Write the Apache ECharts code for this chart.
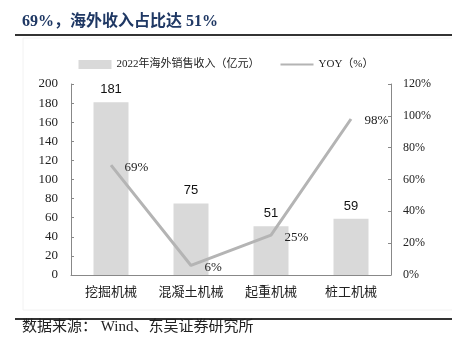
<!DOCTYPE html>
<html>
<head>
<meta charset="utf-8">
<script src="https://cdn.jsdelivr.net/npm/echarts@6/dist/echarts.min.js"></script>
<style>
html,body{margin:0;padding:0;background:#fff;}
#c{width:452px;height:349px;}
</style>
</head>
<body>
<div id="c"></div>
<script>
var categories = ['挖掘机械', '混凝土机械', '起重机械', '桩工机械'];
var salesValues = [181, 75, 51, 59];
var yoyValues = [69, 6, 25, 98];
var leftTicks = [0, 20, 40, 60, 80, 100, 120, 140, 160, 180, 200];
var rightTicks = ['0%', '20%', '40%', '60%', '80%', '100%', '120%'];
var titleText = '69%，海外收入占比达 51%';
var sourceText = '数据来源： Wind、东吴证券研究所';
var barName = '2022年海外销售收入（亿元）';
var lineName = 'YOY（%）';

var serif = '"Liberation Serif", "DejaVu Serif", "Noto Sans CJK SC", serif';
var chart = echarts.init(document.getElementById('c'));
chart.setOption({
  animation: false,
  backgroundColor: '#ffffff',
  graphic: [
    { type: 'rect', shape: { x: 23, y: 38, width: 440, height: 272 }, style: { fill: 'none', stroke: '#f2f2f2', lineWidth: 1 }, silent: true },
    { type: 'text', left: 22, top: 14, style: { text: titleText, fill: '#1f3864', font: 'bold 16px ' + serif } },
    { type: 'line', shape: { x1: 15, y1: 35, x2: 452, y2: 35 }, style: { stroke: '#333', lineWidth: 2 } },
    { type: 'line', shape: { x1: 15, y1: 319, x2: 452, y2: 319 }, style: { stroke: '#333', lineWidth: 2 } },
    { type: 'text', left: 22, top: 320, style: { text: sourceText, fill: '#222', font: '15px ' + serif } }
  ],
  legend: {
    top: 54, left: 'center',
    itemGap: 20, itemWidth: 33, itemHeight: 9,
    textStyle: { fontFamily: serif, fontSize: 11, color: '#222' },
    data: [
      { name: barName, icon: 'rect' },
      { name: lineName }
    ]
  },
  grid: { left: 71, right: 61, top: 84, bottom: 74, containLabel: false },
  xAxis: {
    type: 'category', data: categories,
    axisLine: { lineStyle: { color: '#888', width: 1 } },
    axisTick: { inside: true, length: 4, lineStyle: { color: '#888' } },
    axisLabel: { interval: 0, fontFamily: serif, fontSize: 13, color: '#222', margin: 11 }
  },
  yAxis: [
    {
      type: 'value', min: 0, max: 200, interval: 20,
      axisLine: { show: true, lineStyle: { color: '#888' } },
      axisTick: { show: true, inside: true, length: 3, lineStyle: { color: '#888' } },
      splitLine: { show: false },
      axisLabel: { fontFamily: serif, fontSize: 13, color: '#222', margin: 13,
        formatter: function (v) { return leftTicks.indexOf(v) >= 0 ? String(v) : ''; } }
    },
    {
      type: 'value', min: 0, max: 120, interval: 20,
      axisLine: { show: true, lineStyle: { color: '#888' } },
      axisTick: { show: true, inside: true, length: 3, lineStyle: { color: '#888' } },
      splitLine: { show: false },
      axisLabel: { fontFamily: serif, fontSize: 12, color: '#222', margin: 12,
        formatter: function (v) { return rightTicks[Math.round(v / 20)]; } }
    }
  ],
  series: [
    {
      name: barName, type: 'bar', data: salesValues, barWidth: 35,
      itemStyle: { color: '#d9d9d9' },
      label: { show: true, position: 'top', distance: 6, fontFamily: '"Liberation Sans", Arial, sans-serif', fontSize: 13, color: '#111' }
    },
    {
      name: lineName, type: 'line', yAxisIndex: 1, data: yoyValues,
      symbol: 'circle', symbolSize: 1, showSymbol: true,
      lineStyle: { color: '#b4b4b4', width: 3 },
      itemStyle: { color: '#b4b4b4', opacity: 0 },
      label: { show: true, position: 'right', distance: 13, offset: [0, 2], fontFamily: serif, fontSize: 13, color: '#222', opacity: 1,
        formatter: function (p) { return p.value + '%'; } }
    }
  ]
});
</script>
</body>
</html>
